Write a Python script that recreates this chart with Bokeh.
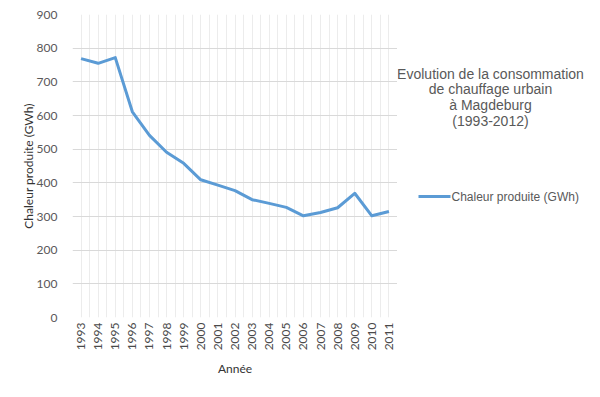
import math
from bokeh.plotting import figure
from bokeh.layouts import row
from bokeh.models import FixedTicker, Label, BoxAnnotation
from bokeh.embed import file_html
from bokeh.resources import INLINE

years = [1993, 1994, 1995, 1996, 1997, 1998, 1999, 2000, 2001, 2002,
         2003, 2004, 2005, 2006, 2007, 2008, 2009, 2010, 2011]
chaleur = [769, 755, 772, 611, 541, 491, 458, 409, 393, 377,
           350, 339, 327, 302, 312, 326, 369, 302, 315]
y_ticks = [0, 100, 200, 300, 400, 500, 600, 700, 800, 900]
title_lines = ["Evolution de la consommation", "de chauffage urbain",
               "à Magdeburg", "(1993-2012)"]
series_name = "Chaleur produite (GWh)"

W, H = 584, 381
FL, FT, FW, FH = 72, 14, 325, 303   # plot-area left/top/width/height in px
PW = FL + FW                         # width of chart part
FB = H - FT - FH

p = figure(width=PW, height=H, output_backend="svg", toolbar_location=None,
           x_range=(years[0] - 0.5, years[-1] + 0.5), y_range=(0, 900),
           min_border_left=FL, min_border_right=0, min_border_top=FT,
           min_border_bottom=FB)
p.outline_line_color = None
p.background_fill_color = "white"

p.line(years, chaleur, line_color="#5B9BD5", line_width=3, line_join="round")

# axes
p.xaxis.ticker = FixedTicker(ticks=years)
p.xaxis.major_label_overrides = {y: str(y) for y in years}
p.xaxis.major_label_orientation = math.pi / 2
p.yaxis.ticker = FixedTicker(ticks=y_ticks)
for ax in (p.xaxis, p.yaxis):
    ax.axis_line_color = None
    ax.major_tick_line_color = None
    ax.minor_tick_line_color = None
    ax.major_tick_out = 0
    ax.major_tick_in = 0
    ax.minor_tick_out = 0
    ax.minor_tick_in = 0
    ax.major_label_text_color = "#595959"
    ax.major_label_text_font = "Lato"
    ax.major_label_text_font_size = "12px"
    ax.axis_label_text_font = "Lato"
    ax.axis_label_text_font_size = "12px"
    ax.axis_label_text_font_style = "normal"
    ax.axis_label_text_color = "#333333"
p.xaxis.major_label_text_color = "#4a4a4a"
p.xaxis.major_label_standoff = 5
p.yaxis.major_label_standoff = 15
p.xaxis.axis_label = "Année"
p.yaxis.axis_label = "Chaleur produite (GWh)"
p.xaxis.axis_label_standoff = 8
p.yaxis.axis_label_standoff = -2

# grids
half = [years[0] - 0.5 + 0.5 * i for i in range(2 * len(years) + 1)]
p.xgrid.ticker = FixedTicker(ticks=half)
p.xgrid.grid_line_color = "#ececec"
p.xgrid.grid_line_width = 1
p.ygrid.ticker = FixedTicker(ticks=y_ticks)
p.ygrid.grid_line_color = "#d9d9d9"
p.ygrid.grid_line_width = 1

# right-hand panel: title block and legend (coordinates in canvas pixels)
p2 = figure(width=W - PW, height=H, output_backend="svg", toolbar_location=None,
            x_range=(PW, W), y_range=(FT + FH, FT),
            min_border_left=0, min_border_right=0,
            min_border_top=FT, min_border_bottom=FB)
p2.outline_line_color = None
p2.axis.visible = False
p2.grid.visible = False

for i, t in enumerate(title_lines):
    p2.add_layout(Label(x=490, y=73 + 15.7 * i,
                        text=t, text_align="center", text_baseline="middle",
                        text_font="Liberation Sans", text_font_size="14px",
                        text_color="#595959"))

p2.add_layout(Label(x=451, y=196,
                    text=series_name, text_align="left", text_baseline="middle",
                    text_font="Liberation Sans", text_font_size="12px",
                    text_color="#595959"))
p2.add_layout(BoxAnnotation(left=418, right=450, top=194.5, bottom=197.5,
                            fill_color="#5B9BD5", fill_alpha=1, line_color=None,
                            level="overlay"))

layout = row(p, p2, spacing=0)
open("out.html", "w").write(file_html(layout, INLINE))
